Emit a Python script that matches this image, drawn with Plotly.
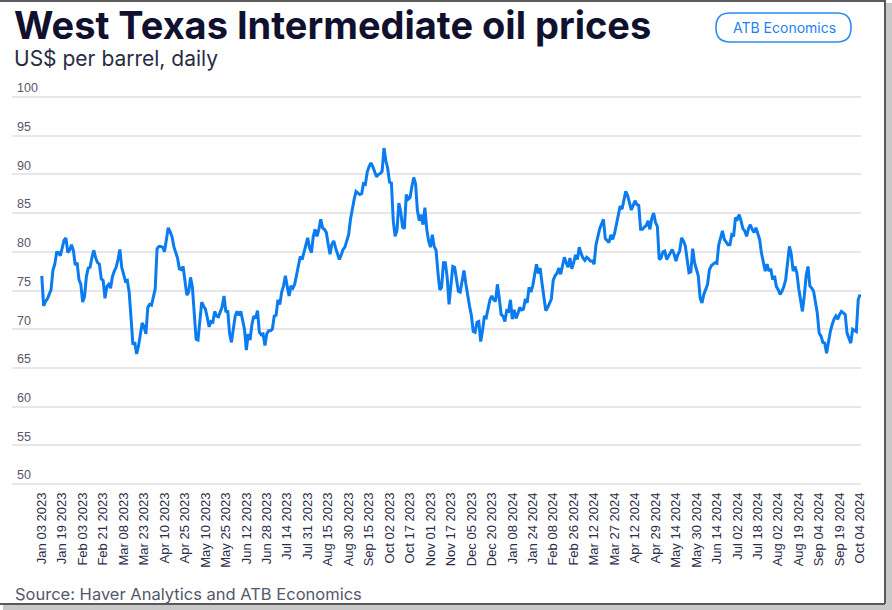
import plotly.graph_objects as go

# ---------------- data ----------------
dates_2023 = [
    "2023-01-03", "2023-01-04", "2023-01-05", "2023-01-06", "2023-01-09", "2023-01-10", "2023-01-11", "2023-01-12",
    "2023-01-13", "2023-01-17", "2023-01-18", "2023-01-19", "2023-01-20", "2023-01-23", "2023-01-24", "2023-01-25",
    "2023-01-26", "2023-01-27", "2023-01-30", "2023-01-31", "2023-02-01", "2023-02-02", "2023-02-03", "2023-02-06",
    "2023-02-07", "2023-02-08", "2023-02-09", "2023-02-10", "2023-02-13", "2023-02-14", "2023-02-15", "2023-02-16",
    "2023-02-17", "2023-02-21", "2023-02-22", "2023-02-23", "2023-02-24", "2023-02-27", "2023-02-28", "2023-03-01",
    "2023-03-02", "2023-03-03", "2023-03-06", "2023-03-07", "2023-03-08", "2023-03-09", "2023-03-10", "2023-03-13",
    "2023-03-14", "2023-03-15", "2023-03-16", "2023-03-17", "2023-03-20", "2023-03-21", "2023-03-22", "2023-03-23",
    "2023-03-24", "2023-03-27", "2023-03-28", "2023-03-29", "2023-03-30", "2023-03-31", "2023-04-03", "2023-04-04",
    "2023-04-05", "2023-04-06", "2023-04-10", "2023-04-11", "2023-04-12", "2023-04-13", "2023-04-14", "2023-04-17",
    "2023-04-18", "2023-04-19", "2023-04-20", "2023-04-21", "2023-04-24", "2023-04-25", "2023-04-26", "2023-04-27",
    "2023-04-28", "2023-05-01", "2023-05-02", "2023-05-03", "2023-05-04", "2023-05-05", "2023-05-08", "2023-05-09",
    "2023-05-10", "2023-05-11", "2023-05-12", "2023-05-15", "2023-05-16", "2023-05-17", "2023-05-18", "2023-05-19",
    "2023-05-22", "2023-05-23", "2023-05-24", "2023-05-25", "2023-05-26", "2023-05-30", "2023-05-31", "2023-06-01",
    "2023-06-02", "2023-06-05", "2023-06-06", "2023-06-07", "2023-06-08", "2023-06-09", "2023-06-12", "2023-06-13",
    "2023-06-14", "2023-06-15", "2023-06-16", "2023-06-20", "2023-06-21", "2023-06-22", "2023-06-23", "2023-06-26",
    "2023-06-27", "2023-06-28", "2023-06-29", "2023-06-30", "2023-07-03", "2023-07-05", "2023-07-06", "2023-07-07",
    "2023-07-10", "2023-07-11", "2023-07-12", "2023-07-13", "2023-07-14", "2023-07-17", "2023-07-18", "2023-07-19",
    "2023-07-20", "2023-07-21", "2023-07-24", "2023-07-25", "2023-07-26", "2023-07-27", "2023-07-28", "2023-07-31",
    "2023-08-01", "2023-08-02", "2023-08-03", "2023-08-04", "2023-08-07", "2023-08-08", "2023-08-09", "2023-08-10",
    "2023-08-11", "2023-08-14", "2023-08-15", "2023-08-16", "2023-08-17", "2023-08-18", "2023-08-21", "2023-08-22",
    "2023-08-23", "2023-08-24", "2023-08-25", "2023-08-28", "2023-08-29", "2023-08-30", "2023-08-31", "2023-09-01",
    "2023-09-05", "2023-09-06", "2023-09-07", "2023-09-08", "2023-09-11", "2023-09-12", "2023-09-13", "2023-09-14",
    "2023-09-15", "2023-09-18", "2023-09-19", "2023-09-20", "2023-09-21", "2023-09-22", "2023-09-25", "2023-09-26",
    "2023-09-27", "2023-09-28", "2023-09-29", "2023-10-02", "2023-10-03", "2023-10-04", "2023-10-05", "2023-10-06",
    "2023-10-09", "2023-10-10", "2023-10-11", "2023-10-12", "2023-10-13", "2023-10-16", "2023-10-17", "2023-10-18",
    "2023-10-19", "2023-10-20", "2023-10-23", "2023-10-24", "2023-10-25", "2023-10-26", "2023-10-27", "2023-10-30",
    "2023-10-31", "2023-11-01", "2023-11-02", "2023-11-03", "2023-11-06", "2023-11-07", "2023-11-08", "2023-11-09",
    "2023-11-13", "2023-11-14", "2023-11-15", "2023-11-16", "2023-11-17", "2023-11-20", "2023-11-21", "2023-11-22",
    "2023-11-24", "2023-11-27", "2023-11-28", "2023-11-29", "2023-11-30", "2023-12-01", "2023-12-04", "2023-12-05",
    "2023-12-06", "2023-12-07", "2023-12-08", "2023-12-11", "2023-12-12", "2023-12-13", "2023-12-14", "2023-12-15",
    "2023-12-18", "2023-12-19", "2023-12-20", "2023-12-21", "2023-12-22", "2023-12-26", "2023-12-27", "2023-12-28",
    "2023-12-29",
]
prices_2023 = [
    76.9, 73.0, 73.6, 73.9, 74.5, 75.1, 77.6, 78.4,
    79.9, 79.9, 79.5, 80.5, 81.5, 81.8, 79.9, 80.2,
    80.9, 80.2, 78.3, 78.6, 76.4, 75.8, 73.5, 74.2,
    76.8, 77.9, 78.0, 79.3, 80.2, 79.2, 78.6, 78.4,
    76.5, 76.3, 74.0, 75.5, 75.8, 75.3, 76.8, 77.5,
    78.0, 79.0, 80.3, 78.0, 76.9, 76.2, 76.3, 74.8,
    71.5, 68.0, 68.3, 66.8, 67.8, 69.4, 70.8, 70.3,
    69.4, 72.8, 73.2, 73.1, 74.2, 75.2, 80.4, 80.7,
    80.7, 80.6, 80.0, 81.5, 83.1, 82.6, 82.0, 80.7,
    79.9, 79.2, 77.8, 77.7, 78.1, 76.4, 74.4, 74.8,
    76.7, 75.4, 71.6, 68.7, 68.6, 71.3, 73.5, 73.0,
    72.6, 71.5, 70.3, 71.0, 70.9, 72.3, 71.7, 71.6,
    72.2, 72.9, 74.3, 72.2, 72.4, 69.4, 68.3, 70.1,
    71.7, 72.3, 71.8, 72.3, 71.2, 70.0, 67.3, 69.4,
    68.6, 70.6, 71.7, 71.4, 72.4, 69.6, 69.3, 69.4,
    67.9, 69.4, 69.8, 69.8, 70.0, 71.7, 71.8, 73.8,
    73.2, 74.8, 75.6, 76.9, 75.5, 74.3, 75.6, 75.3,
    75.8, 77.0, 78.6, 79.4, 79.0, 80.0, 80.6, 81.8,
    80.5, 79.9, 82.0, 82.9, 82.0, 82.9, 84.2, 83.1,
    82.9, 82.5, 81.0, 79.7, 81.0, 81.4, 80.5, 79.8,
    79.0, 79.6, 80.3, 80.6, 81.6, 82.2, 84.2, 85.8,
    86.8, 87.8, 87.6, 87.4, 87.5, 88.8, 88.7, 90.3,
    91.0, 91.5, 91.0, 90.3, 89.7, 90.0, 90.1, 90.4,
    93.4, 91.8, 90.8, 89.0, 88.9, 84.0, 82.0, 82.8,
    86.3, 85.2, 83.2, 83.0, 87.4, 86.8, 87.0, 88.4,
    89.6, 88.8, 85.3, 84.0, 84.8, 83.5, 85.7, 82.9,
    81.4, 80.6, 82.2, 80.7, 80.2, 77.4, 75.1, 75.4,
    78.6, 78.6, 76.7, 73.2, 76.2, 78.1, 78.0, 76.5,
    74.9, 74.8, 76.4, 77.6, 75.9, 74.1, 73.0, 71.8,
    69.7, 69.6, 70.9, 71.0, 68.4, 69.8, 71.7, 71.5,
    72.5, 73.8, 74.3, 73.8, 73.6, 75.8, 74.0, 71.9,
    71.7,
]

dates_2024 = [
    "2024-01-02", "2024-01-03", "2024-01-04", "2024-01-05", "2024-01-08", "2024-01-09", "2024-01-10", "2024-01-11",
    "2024-01-12", "2024-01-16", "2024-01-17", "2024-01-18", "2024-01-19", "2024-01-22", "2024-01-23", "2024-01-24",
    "2024-01-25", "2024-01-26", "2024-01-29", "2024-01-30", "2024-01-31", "2024-02-01", "2024-02-02", "2024-02-05",
    "2024-02-06", "2024-02-07", "2024-02-08", "2024-02-09", "2024-02-12", "2024-02-13", "2024-02-14", "2024-02-15",
    "2024-02-16", "2024-02-20", "2024-02-21", "2024-02-22", "2024-02-23", "2024-02-26", "2024-02-27", "2024-02-28",
    "2024-02-29", "2024-03-01", "2024-03-04", "2024-03-05", "2024-03-06", "2024-03-07", "2024-03-08", "2024-03-11",
    "2024-03-12", "2024-03-13", "2024-03-14", "2024-03-15", "2024-03-18", "2024-03-19", "2024-03-20", "2024-03-21",
    "2024-03-22", "2024-03-25", "2024-03-26", "2024-03-27", "2024-03-28", "2024-04-01", "2024-04-02", "2024-04-03",
    "2024-04-04", "2024-04-05", "2024-04-08", "2024-04-09", "2024-04-10", "2024-04-11", "2024-04-12", "2024-04-15",
    "2024-04-16", "2024-04-17", "2024-04-18", "2024-04-19", "2024-04-22", "2024-04-23", "2024-04-24", "2024-04-25",
    "2024-04-26", "2024-04-29", "2024-04-30", "2024-05-01", "2024-05-02", "2024-05-03", "2024-05-06", "2024-05-07",
    "2024-05-08", "2024-05-09", "2024-05-10", "2024-05-13", "2024-05-14", "2024-05-15", "2024-05-16", "2024-05-17",
    "2024-05-20", "2024-05-21", "2024-05-22", "2024-05-23", "2024-05-24", "2024-05-28", "2024-05-29", "2024-05-30",
    "2024-05-31", "2024-06-03", "2024-06-04", "2024-06-05", "2024-06-06", "2024-06-07", "2024-06-10", "2024-06-11",
    "2024-06-12", "2024-06-13", "2024-06-14", "2024-06-17", "2024-06-18", "2024-06-20", "2024-06-21", "2024-06-24",
    "2024-06-25", "2024-06-26", "2024-06-27", "2024-06-28", "2024-07-01", "2024-07-02", "2024-07-03", "2024-07-05",
    "2024-07-08", "2024-07-09", "2024-07-10", "2024-07-11", "2024-07-12", "2024-07-15", "2024-07-16", "2024-07-17",
    "2024-07-18", "2024-07-19", "2024-07-22", "2024-07-23", "2024-07-24", "2024-07-25", "2024-07-26", "2024-07-29",
    "2024-07-30", "2024-07-31", "2024-08-01", "2024-08-02", "2024-08-05", "2024-08-06", "2024-08-07", "2024-08-08",
    "2024-08-09", "2024-08-12", "2024-08-13", "2024-08-14", "2024-08-15", "2024-08-16", "2024-08-19", "2024-08-20",
    "2024-08-21", "2024-08-22", "2024-08-23", "2024-08-26", "2024-08-27", "2024-08-28", "2024-08-29", "2024-08-30",
    "2024-09-03", "2024-09-04", "2024-09-05", "2024-09-06", "2024-09-09", "2024-09-10", "2024-09-11", "2024-09-12",
    "2024-09-13", "2024-09-16", "2024-09-17", "2024-09-18", "2024-09-19", "2024-09-20", "2024-09-23", "2024-09-24",
    "2024-09-25", "2024-09-26", "2024-09-27", "2024-09-30", "2024-10-01", "2024-10-02", "2024-10-03", "2024-10-04",
]
prices_2024 = [
    71.0, 72.4, 72.3, 73.8, 71.3, 72.5, 71.4, 72.0,
    72.8, 72.5, 72.6, 73.9, 73.4, 75.4, 74.8, 75.6,
    77.3, 78.4, 77.2, 77.9, 75.9, 73.8, 72.4, 72.8,
    73.4, 73.9, 76.3, 76.9, 77.2, 77.9, 77.1, 78.4,
    79.3, 78.6, 78.0, 79.2, 77.8, 78.6, 79.6, 79.0,
    80.6, 79.8, 79.2, 78.9, 79.3, 79.1, 78.8, 78.8,
    78.4, 80.9, 82.0, 83.0, 83.6, 84.2, 81.7, 81.5,
    81.2, 82.2, 81.6, 82.4, 83.6, 84.8, 85.9, 85.5,
    86.9, 87.8, 87.3, 86.5, 85.4, 86.0, 86.6, 86.1,
    86.0, 82.9, 82.9, 83.2, 83.4, 84.0, 82.9, 84.3,
    85.0, 83.8, 83.3, 79.0, 79.2, 80.0, 80.1, 79.0,
    79.5, 79.9, 80.3, 79.7, 78.8, 79.6, 80.1, 81.8,
    81.4, 80.8, 79.3, 77.3, 77.4, 80.4, 78.6, 77.8,
    76.9, 74.0, 73.4, 74.5, 75.3, 75.8, 77.7, 78.2,
    78.4, 78.6, 78.5, 80.9, 81.8, 82.7, 81.6, 81.2,
    80.9, 80.9, 82.2, 82.0, 84.4, 84.2, 84.8, 84.0,
    83.0, 82.7, 82.0, 83.0, 83.5, 82.9, 82.5, 83.1,
    82.2, 81.6, 79.8, 78.5, 77.5, 78.4, 77.5, 77.8,
    76.4, 76.9, 75.5, 75.1, 74.5, 74.9, 75.5, 76.4,
    78.5, 80.7, 79.7, 77.5, 78.1, 77.3, 75.3, 73.5,
    72.3, 74.3, 76.9, 78.1, 75.6, 75.3, 74.9, 73.5,
    72.1, 69.5, 69.1, 68.3, 68.2, 66.9, 68.4, 69.7,
    70.6, 71.3, 71.7, 71.3, 71.9, 72.3, 72.1, 71.9,
    69.5, 68.7, 68.2, 70.0, 69.8, 69.7, 73.8, 74.5,
]

# trading-calendar gaps (holidays / missing observations) in the series
holidays = [
    "2022-12-26", "2023-01-02", "2023-01-16", "2023-02-20", "2023-04-07", "2023-05-29",
    "2023-06-19", "2023-07-04", "2023-09-04", "2023-11-10", "2023-11-23", "2023-12-25",
    "2024-01-01", "2024-01-15", "2024-02-19", "2024-03-29", "2024-05-27", "2024-06-19",
    "2024-07-04", "2024-09-02",
]

tick_dates = [
    "2023-01-03", "2023-01-19", "2023-02-03", "2023-02-21", "2023-03-08", "2023-03-23", "2023-04-10",
    "2023-04-25", "2023-05-10", "2023-05-25", "2023-06-12", "2023-06-28", "2023-07-14", "2023-07-31",
    "2023-08-15", "2023-08-30", "2023-09-15", "2023-10-02", "2023-10-17", "2023-11-01", "2023-11-17",
    "2023-12-05", "2023-12-20", "2024-01-08", "2024-01-24", "2024-02-08", "2024-02-26", "2024-03-12",
    "2024-03-27", "2024-04-12", "2024-04-29", "2024-05-14", "2024-05-30", "2024-06-14", "2024-07-02",
    "2024-07-18", "2024-08-02", "2024-08-19", "2024-09-04", "2024-09-19", "2024-10-04",
]
tick_labels = [
    "Jan 03 2023", "Jan 19 2023", "Feb 03 2023", "Feb 21 2023", "Mar 08 2023", "Mar 23 2023", "Apr 10 2023",
    "Apr 25 2023", "May 10 2023", "May 25 2023", "Jun 12 2023", "Jun 28 2023", "Jul 14 2023", "Jul 31 2023",
    "Aug 15 2023", "Aug 30 2023", "Sep 15 2023", "Oct 02 2023", "Oct 17 2023", "Nov 01 2023", "Nov 17 2023",
    "Dec 05 2023", "Dec 20 2023", "Jan 08 2024", "Jan 24 2024", "Feb 08 2024", "Feb 26 2024", "Mar 12 2024",
    "Mar 27 2024", "Apr 12 2024", "Apr 29 2024", "May 14 2024", "May 30 2024", "Jun 14 2024", "Jul 02 2024",
    "Jul 18 2024", "Aug 02 2024", "Aug 19 2024", "Sep 04 2024", "Sep 19 2024", "Oct 04 2024",
]
y_ticks = [50, 55, 60, 65, 70, 75, 80, 85, 90, 95, 100]

# ---------------- layout geometry ----------------
W, H = 892, 610
ML, MR, MT, MB = 12, 31, 95, 124      # plot area; y range padded so 100 sits at 97px, 50 at 484px
PW, PH = W - ML - MR, H - MT - MB


def px(x):
    return (x - ML) / PW


def py(y):
    return (H - MB - y) / PH


BLUE = "#0a7cf0"
NAVY = "#10112e"

fig = go.Figure()
fig.add_trace(go.Scatter(
    x=dates_2023 + dates_2024,
    y=prices_2023 + prices_2024,
    mode="lines",
    line=dict(color=BLUE, width=3),
    hoverinfo="x+y",
    showlegend=False,
))

fig.update_layout(
    width=W, height=H,
    margin=dict(l=ML, r=MR, t=MT, b=MB, autoexpand=False),
    paper_bgcolor="white",
    plot_bgcolor="white",
    font=dict(family="Inter, Roboto, sans-serif", color=NAVY),
    xaxis=dict(
        type="date",
        automargin=False,
        range=["2022-12-08", "2024-10-04 12:00"],
        rangebreaks=[dict(bounds=["sat", "mon"]), dict(values=holidays)],
        tickmode="array",
        tickvals=tick_dates,
        ticktext=tick_labels,
        tickangle=-90,
        tickfont=dict(family="Liberation Sans, Arial, sans-serif", size=13, color="#2a2c48"),
        showgrid=False,
        zeroline=False,
        showline=False,
        ticks="",
        ticklabelstandoff=3,
    ),
    yaxis=dict(
        automargin=False,
        range=[49.74, 100.26],
        tickmode="array",
        tickvals=y_ticks,
        ticktext=[str(v) for v in y_ticks],
        showgrid=True,
        gridcolor="#e6e6ec",
        gridwidth=1.6,
        zeroline=False,
        showline=False,
        ticks="",
        ticklabelposition="inside",
        ticklabeloverflow="allow",
        ticklabelshift=-9,
        ticklabelstandoff=2,
        tickfont=dict(family="Liberation Sans, Arial, sans-serif", size=12.5, color="#55576a"),
    ),
)

# badge (rounded rectangle)
bx0, bx1, by0, by1, r = 716, 851, 13, 42, 14
path = (
    f"M {px(bx0 + r)} {py(by0)} L {px(bx1 - r)} {py(by0)} "
    f"Q {px(bx1)} {py(by0)} {px(bx1)} {py(by0 + r)} L {px(bx1)} {py(by1 - r)} "
    f"Q {px(bx1)} {py(by1)} {px(bx1 - r)} {py(by1)} L {px(bx0 + r)} {py(by1)} "
    f"Q {px(bx0)} {py(by1)} {px(bx0)} {py(by1 - r)} L {px(bx0)} {py(by0 + r)} "
    f"Q {px(bx0)} {py(by0)} {px(bx0 + r)} {py(by0)} Z"
)
shapes = [
    dict(type="path", xref="paper", yref="paper", path=path,
         line=dict(color="#2b8cf5", width=1.6), fillcolor="white", layer="above"),
    # frame of the screenshot
    dict(type="line", xref="paper", yref="paper", x0=px(0), x1=px(885), y0=py(1), y1=py(1),
         line=dict(color="#5a5a5a", width=2)),
    dict(type="line", xref="paper", yref="paper", x0=px(885), x1=px(885), y0=py(0), y1=py(604),
         line=dict(color="#5a5a5a", width=2)),
    dict(type="line", xref="paper", yref="paper", x0=px(0), x1=px(885), y0=py(604), y1=py(604),
         line=dict(color="#5a5a5a", width=2)),
    dict(type="rect", xref="paper", yref="paper", x0=px(886), x1=px(892), y0=py(3), y1=py(610),
         line=dict(width=0), fillcolor="#c8c8c8"),
    dict(type="rect", xref="paper", yref="paper", x0=px(3), x1=px(892), y0=py(605), y1=py(610),
         line=dict(width=0), fillcolor="#c8c8c8"),
]

annotations = [
    dict(text="<b>West Texas Intermediate oil prices</b>", x=px(12), y=py(25), xref="paper", yref="paper",
         xanchor="left", yanchor="middle", showarrow=False,
         font=dict(family="Inter, sans-serif", size=38, color=NAVY)),
    dict(text="US$ per barrel, daily", x=px(12), y=py(59), xref="paper", yref="paper",
         xanchor="left", yanchor="middle", showarrow=False,
         font=dict(family="Inter, sans-serif", size=21, color="#2a2c44")),
    dict(text="ATB Economics", x=px(784), y=py(27.5), xref="paper", yref="paper",
         xanchor="center", yanchor="middle", showarrow=False,
         font=dict(family="Inter, sans-serif", size=14, color="#1f7ff0")),
    dict(text="Source: Haver Analytics and ATB Economics", x=px(13), y=py(594), xref="paper", yref="paper",
         xanchor="left", yanchor="middle", showarrow=False,
         font=dict(family="Inter, sans-serif", size=16.5, color="#55576a")),
]

fig.update_layout(shapes=shapes, annotations=annotations)
fig.write_html(
    "out.html",
    config={"displayModeBar": False},
    post_script="document.body.style.margin='0';document.body.style.padding='0';",
)
